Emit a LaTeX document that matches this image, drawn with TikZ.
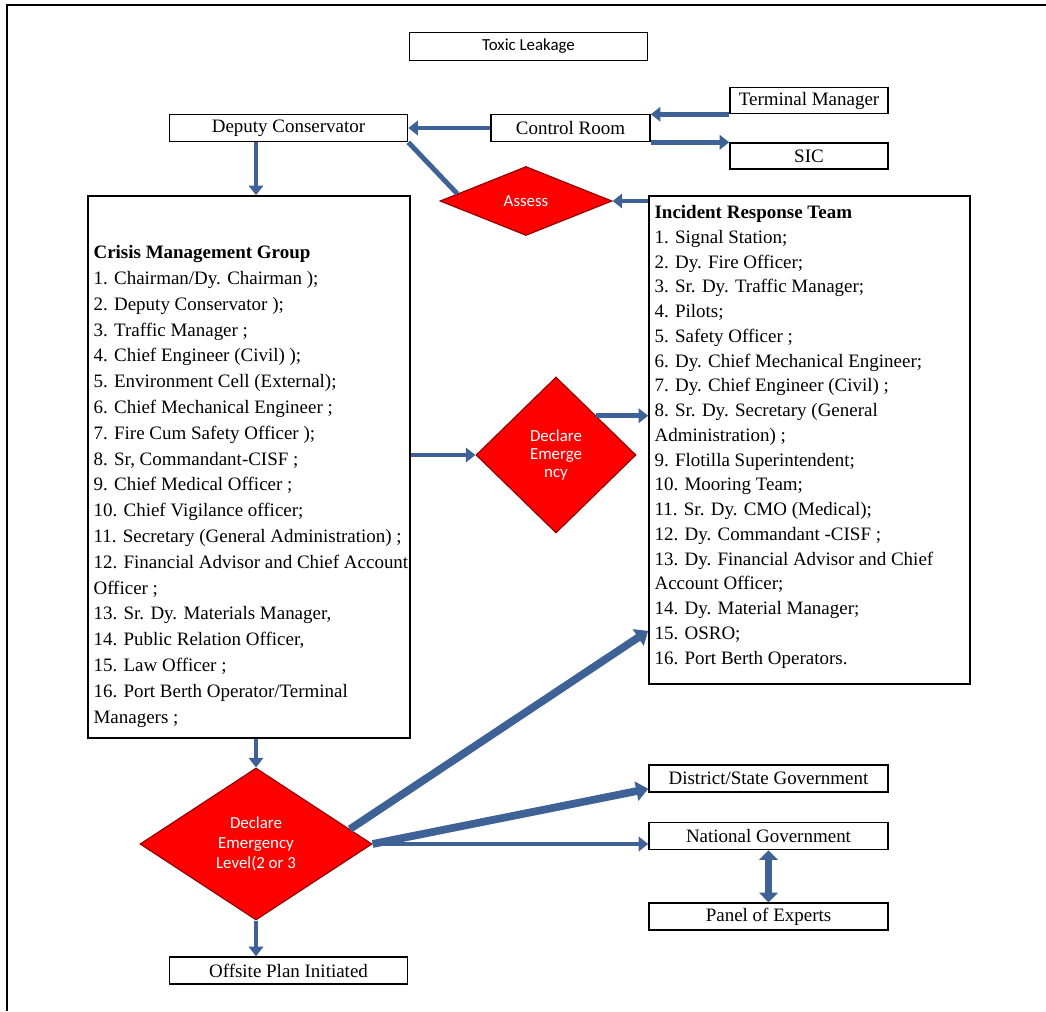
\documentclass[tikz,border=0pt]{standalone}
\usepackage{fontspec}
\setmainfont{Liberation Serif}
\newfontfamily\calibfont{Carlito}
\usetikzlibrary{positioning,shapes.geometric,arrows.meta}
\definecolor{arrblue}{RGB}{62,98,150}

\begin{document}
\begin{tikzpicture}[x=0.25mm, y=-0.25mm, thick,
    box/.style = {draw, line width=1.1pt, inner sep=0pt, minimum width=59.5mm, minimum height=6.75mm, font=\fontsize{13.5}{16}\selectfont},
    dia/.style = {draw=red!55!black, fill=red, diamond, inner sep=0pt, text=white, align=center, font=\calibfont\fontsize{12}{14}\selectfont},
    listbox/.style = {draw, line width=1.2pt, minimum width=80.5mm},
    listtext/.style = {anchor=north west, inner sep=0pt, align=left},
    arr/.style = {draw=arrblue, line width=3.5pt, -{Triangle[length=2.4mm, width=3.6mm]}},
    bigarr/.style = {arr, line width=5.5pt, -{Triangle[length=3mm, width=4.8mm]}}]
    \useasboundingbox (0,0) rectangle (1046,1011);
    \draw[line width=1.2pt] (1046,5) -- (7,5) -- (7,1011);

    % top row
    \node[box, font=\calibfont\fontsize{12}{14}\selectfont, minimum height=7mm] (toxic) at (528.5,46.5) {Toxic Leakage};
    \node[box] (dc) at (288.5,128) {Deputy Conservator};
    \node[box, minimum width=39.75mm] (cr) [right=20.5mm of dc] {Control Room};
    \node[box, minimum width=39.5mm, minimum height=6.5mm] (tm) at (809,100.5) {Terminal Manager};
    \node[box, minimum width=39.5mm, minimum height=6.5mm] (sic) [below=7mm of tm] {SIC};
    \node[dia, minimum width=43mm, minimum height=17.25mm] (assess) at (526,201) {Assess};

    % the two teams
    \node[listbox, minimum height=135.5mm] (cmg) at (249,467) {};
    \node[listtext, font=\fontsize{13.5}{18.35}\selectfont] (cmgtext) at (93,245) {\textbf{Crisis Management Group}\\
        1. Chairman/Dy. Chairman );\\
        2. Deputy Conservator );\\
        3. Traffic Manager ;\\
        4. Chief Engineer (Civil) );\\
        5. Environment Cell (External);\\
        6. Chief Mechanical Engineer ;\\
        7. Fire Cum Safety Officer );\\
        8. Sr, Commandant-CISF ;\\
        9. Chief Medical Officer ;\\
        10. Chief Vigilance officer;\\
        11. Secretary (General Administration) ;\\
        12. Financial Advisor and Chief Account\\
        Officer ;\\
        13. Sr. Dy. Materials Manager,\\
        14. Public Relation Officer,\\
        15. Law Officer ;\\
        16. Port Berth Operator/Terminal\\
        Managers ;};
    \node[listbox, minimum width=80.25mm, minimum height=122mm] (irt) at (809.5,440) {};
    \node[listtext, font=\fontsize{13.5}{17.6}\selectfont] (irttext) at (654,205) {\textbf{Incident Response Team}\\
        1. Signal Station;\\
        2. Dy. Fire Officer;\\
        3. Sr. Dy. Traffic Manager;\\
        4. Pilots;\\
        5. Safety Officer ;\\
        6. Dy. Chief Mechanical Engineer;\\
        7. Dy. Chief Engineer (Civil) ;\\
        8. Sr. Dy. Secretary (General\\
        Administration) ;\\
        9. Flotilla Superintendent;\\
        10. Mooring Team;\\
        11. Sr. Dy. CMO (Medical);\\
        12. Dy. Commandant -CISF ;\\
        13. Dy. Financial Advisor and Chief\\
        Account Officer;\\
        14. Dy. Material Manager;\\
        15. OSRO;\\
        16. Port Berth Operators.};
    \node[dia, minimum width=40mm, minimum height=39mm, font=\calibfont\fontsize{12}{13}\selectfont] (de) at (556,455) {Declare\\Emerge\\ncy};

    % bottom part
    \node[dia, minimum width=58mm, minimum height=38mm, font=\calibfont\fontsize{12}{14.2}\selectfont] (level) at (256,844) {Declare\\Emergency\\Level(2 or 3};
    \node[box] (offsite) at (288.5,970.5) {Offsite Plan Initiated};
    \node[box, minimum width=59.75mm] (district) at (768.5,778.5) {District/State Government};
    \node[box, minimum width=59.75mm] (national) [below=7.25mm of district] {National Government};
    \node[box, minimum width=59.75mm] (panel) [below=13mm of national] {Panel of Experts};

    % connectors
    \draw[arr] (tm.south west) -- (tm.south west -| cr.east);
    \draw[arr] (cr.south east) -- (cr.south east -| sic.west);
    \draw[arr] (cr) -- (dc);
    \draw[arr] (dc.south -| level) -- (cmg.north -| level);
    \draw[arrblue, line width=3.5pt] (dc.south east) -- (assess.174);
    \draw[arr] (assess.east -| irt.west) -- (assess.east);
    \draw[arr, line width=3pt] (de.west -| cmg.east) -- (de.west);
    \draw[arr] (de.north east) -- (de.north east -| irt.west);
    \draw[arr] (cmg.south -| level) -- (level.north);
    \draw[arr] (level.south) -- (offsite.north -| level);
    \draw[bigarr] (level.9) -- ([yshift=13.5mm]irt.south west);
    \draw[bigarr] (level.east) -- ([yshift=1mm]district.south west);
    \draw[arr, line width=3pt] (level.east) -- (level.east -| national.west);
    \draw[arr, line width=4.5pt, {Triangle[length=2.4mm, width=4.6mm]}-{Triangle[length=2.4mm, width=4.6mm]}] (national) -- (panel);
\end{tikzpicture}
\end{document}
